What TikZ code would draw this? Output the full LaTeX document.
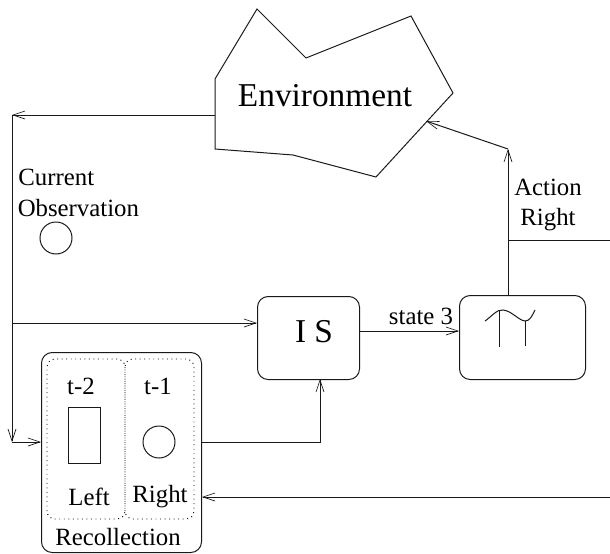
\documentclass[tikz,border=0pt]{standalone}
\usepackage{fontspec}
\setmainfont{Liberation Serif}
\usetikzlibrary{arrows.meta}
\tikzset{
  x=0.75pt,y=-0.75pt,
  ln/.style={line width=0.75pt,black!90},
  arr/.style={ln,-{Straight Barb[length=9pt,width=6pt,line width=0.5pt]}},
  rbox/.style={draw,ln,rounded corners=8pt,inner sep=0pt,anchor=north west},
  dotbox/.style={draw,line width=0.7pt,dash pattern=on 0.7pt off 2.7pt,rounded corners=6pt},
  lab/.style={font=\fontsize{18.6}{23}\selectfont,inner sep=0pt,align=center},
  big/.style={font=\fontsize{25}{30}\selectfont,inner sep=0pt},
}
\begin{document}
\begin{tikzpicture}
\useasboundingbox (0,0) rectangle (610,553);
% environment
\draw[ln] (257,9) -- (306,58) -- (411,16) -- (453,93) -- (376,177) -- (293,155) -- (215,149) -- (215,79) -- cycle;
\node[big] (env) at (325,96) {Environment};
\coordinate (envleft) at (215,115);
\coordinate (envin) at (426,121);
% boxes
\node[rbox,minimum width=102.0*0.75pt,minimum height=83*0.75pt] (is) at (257,296) {};
\node[big] (istxt) at (314,332) {I S};
\node[rbox,minimum width=126*0.75pt,minimum height=84*0.75pt] (act) at (459,295) {};
\node[rbox,minimum width=160*0.75pt,minimum height=200*0.75pt] (rec) at (41,352) {};
% recollection inside
\draw[dotbox] (47,519) rectangle (125,359);
\draw[dotbox] (125,519) rectangle (194,359);
\node[draw,ln,inner sep=0pt,minimum width=32*0.75pt,minimum height=56*0.75pt] (rect) at (84,435) {};
\node[draw,ln,circle,inner sep=0pt,minimum size=32*0.75pt] (circR) at (159,442) {};
\node[draw,ln,circle,inner sep=0pt,minimum size=32*0.75pt] (circO) at (56,238) {};
\node[lab] (t2) at (81,386) {t-2};
\node[lab] (t1) at (158,386) {t-1};
\node[lab] (left) at (89,497) {Left};
\node[lab] (right) at (160,497) {Right};
\node[lab] (recl) at (118,537) {Recollection};
\node[lab,anchor=west,align=left] (obs) at (17.5,193) {\hspace*{0.5pt}Current\\Observation};
\node[lab] (state) at (421,316) {state 3};
\node[lab] (actl) at (548,205) {Action\\Right};
% glyph
\draw[ln] (485,321) .. controls (491,317) and (497,309) .. (503,310) .. controls (512,311) and (518,320) .. (525,321) .. controls (530,321) and (532,316) .. (535,310);
\draw[ln] (499,311) -- (499,347);
\draw[ln] (525,321) -- (525,346);
% connectors
\coordinate (lt) at (12,115);
\coordinate (lb) at (12,442);
\coordinate (lm) at (12,323);
\coordinate (islow) at (320,379);
\coordinate (rr) at (320,442);
\coordinate (fb) at (610,497);
\coordinate (fbend) at (202,497);
\coordinate (acttop) at (508,149);
\coordinate (actm) at (508,240);
\coordinate (actr) at (610,240);
\draw[arr] (envleft) -- (lt);
\draw[arr] (lt) -- (lb);
\draw[arr] (lb) -- (rec.west |- lb);
\draw[arr] (lm) -- (is.west |- lm);
\draw[arr] (rec.east |- rr) -- (rr) -- (islow);
\draw[arr] (fb) -- (fbend);
\draw[arr] (is.east |- 0,331) -- (act.west |- 0,331);
\draw[arr] (act.north -| acttop) -- (acttop);
\draw[arr] (acttop) -- (envin);
\draw[ln] (actm) -- (actr);
\end{tikzpicture}
\end{document}
